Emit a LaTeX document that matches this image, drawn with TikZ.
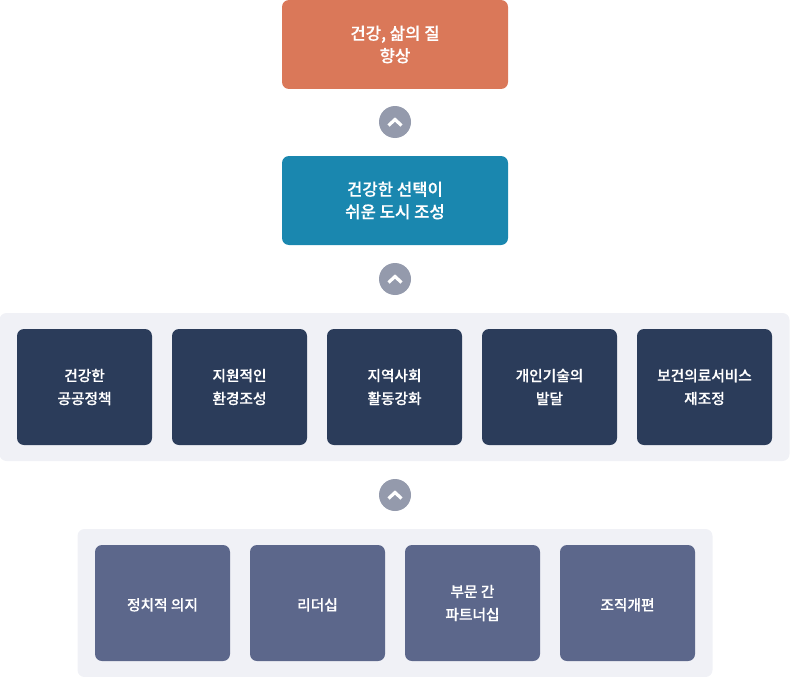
\documentclass[tikz,border=0pt]{standalone}
\usepackage{fontspec}
\setmainfont[FakeBold=0.3]{Noto Sans CJK KR Medium}
\usepackage{xcolor}
\usetikzlibrary{positioning, fit, backgrounds, calc}
\definecolor{goalorange}{HTML}{DA7859}
\definecolor{cityblue}{HTML}{1A87AF}
\definecolor{actionnavy}{HTML}{2B3C5A}
\definecolor{basegray}{HTML}{5C678B}
\definecolor{panelgray}{HTML}{F0F1F6}
\definecolor{badgegray}{HTML}{949AAC}

\begin{document}
\begin{tikzpicture}[
  every node/.style={text=white, align=center, outer sep=0pt},
  outcome/.style={rounded corners=7pt, minimum width=226pt, minimum height=89pt, inner sep=0pt, font=\fontsize{16.7}{22.5}\selectfont, execute at begin node={\rule{0pt}{17pt}}},
  tile/.style={rounded corners=7pt, minimum width=135pt, minimum height=116pt, inner sep=0pt, font=\fontsize{14.7}{23}\selectfont, execute at begin node={\rule{0pt}{16pt}}},
  panel/.style={fill=panelgray, rounded corners=7pt, inner xsep=17.5pt, inner ysep=16pt},
  badge/.style={circle, fill=badgegray, minimum size=32pt, inner sep=0pt,
    path picture={\draw[white, line width=3.2pt]
      ($(path picture bounding box.center)+(-6.5pt,-3.5pt)$) -- ++(6.5pt,6pt) -- ++(6.5pt,-6pt);}}
]
  \useasboundingbox (0pt,0pt) rectangle (790pt,-677pt);

  \node[outcome, fill=goalorange] (goal) at (395pt,-44.5pt) {건강, 삶의 질\\향상};
  \node[badge, below=17pt of goal] (badgeone) {};
  \node[outcome, fill=cityblue, below=18pt of badgeone] (city) {건강한 선택이\\쉬운 도시 조성};
  \node[badge, below=18pt of city] (badgetwo) {};

  \node[tile, fill=actionnavy, below=34pt of badgetwo, xshift=-0.5pt] (action) {지역사회\\활동강화};
  \node[tile, fill=actionnavy, left=20pt of action] (support) {지원적인\\환경조성};
  \node[tile, fill=actionnavy, left=20pt of support] (policy) {건강한\\공공정책};
  \node[tile, fill=actionnavy, right=20pt of action] (skill) {개인기술의\\발달};
  \node[tile, fill=actionnavy, right=20pt of skill] (service) {보건의료서비스\\재조정};
  \begin{scope}[on background layer]
    \node[panel, fit=(policy) (service)] (panelone) {};
  \end{scope}

  \node[badge, below=18pt of panelone, xshift=0.5pt] (badgethree) {};

  \node[tile, fill=basegray, below=34pt of badgethree, xshift=-77.5pt] (leader) {리더십};
  \node[tile, fill=basegray, left=20pt of leader] (will) {정치적 의지};
  \node[tile, fill=basegray, right=20pt of leader] (partner) {부문 간\\파트너십};
  \node[tile, fill=basegray, right=20pt of partner] (reform) {조직개편};
  \begin{scope}[on background layer]
    \node[panel, fit=(will) (reform)] (paneltwo) {};
  \end{scope}
\end{tikzpicture}
\end{document}
